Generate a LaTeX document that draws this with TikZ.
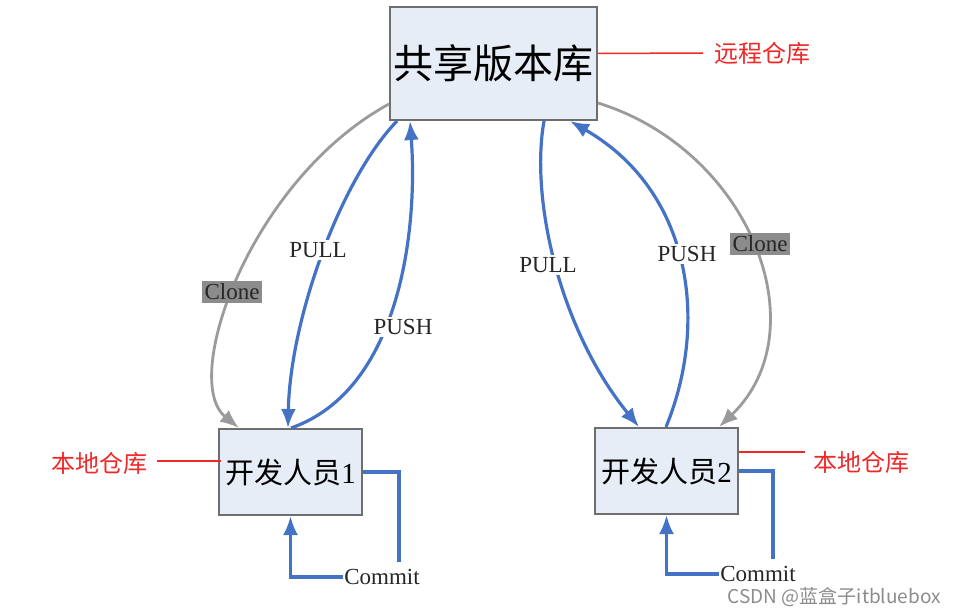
\documentclass[tikz,border=0pt]{standalone}
\usepackage{fontspec}
\setmainfont{Liberation Serif}
\newfontfamily\cjk{Noto Sans CJK SC}
\usetikzlibrary{arrows.meta,calc}
\definecolor{boxfill}{RGB}{230,237,247}
\definecolor{boxline}{RGB}{110,110,110}
\definecolor{blueln}{RGB}{68,114,196}
\definecolor{grayln}{RGB}{155,155,155}
\definecolor{clonebg}{RGB}{140,140,140}
\definecolor{redln}{RGB}{240,40,40}
\tikzset{
  repo/.style={draw=boxline, line width=2pt, fill=boxfill, inner sep=0pt},
  bluearrow/.style={draw=blueln, line width=3.2pt, -{Latex[length=19pt,width=15pt]}},
  blueline/.style={draw=blueln, line width=3.2pt},
  grayarrow/.style={draw=grayln, line width=2.8pt, -{Latex[length=19pt,width=15pt]}},
  lbl/.style={fill=white, inner sep=2pt, font=\fontsize{23}{26}\selectfont, text=black!85},
  clonelbl/.style={fill=clonebg, inner sep=2.5pt, font=\fontsize{23}{26}\selectfont, text=black!85},
  redlbl/.style={text=redln, inner sep=0pt, font=\cjk\fontsize{24}{28}\selectfont},
  redline/.style={draw=redln, line width=1.5pt},
}
\begin{document}
\begin{tikzpicture}[x=1pt,y=-1pt]
\useasboundingbox[fill=white] (0,0) rectangle (956,615);
% boxes
\node[repo, minimum width=207pt, minimum height=113pt] (top) at (493.5,63.5) {\cjk\fontsize{40}{44}\selectfont 共享版本库};
\node[repo, minimum width=143pt, minimum height=86pt] (dev1) at (290.5,472) {\fontsize{29}{32}\selectfont{\cjk 开发人员}1};
\node[repo, minimum width=143pt, minimum height=86pt] (dev2) at (666.5,471) {\fontsize{29}{32}\selectfont{\cjk 开发人员}2};

% clone curves
\draw[grayarrow] ($(top.south west)+(0,-17)$) .. controls (250,180) and (180,380) .. ($(dev1.north west)+(21,0)$);
\draw[grayarrow] ($(top.south east)+(0,-18)$) .. controls (750,150) and (820,330) .. ($(dev2.north east)+(-20,0)$);
% pull / push left
\draw[bluearrow] ($(top.south west)+(8,0)$) .. controls (340,180) and (290,320) .. ($(dev1.north west)+(70,0)$);
\draw[bluearrow] ($(dev1.north west)+(73,0)$) .. controls (400,390) and (418,230) .. ($(top.south west)+(21,0)$);
% pull / push right
\draw[bluearrow] ($(top.south west)+(155,0)$) .. controls (530,200) and (560,330) .. ($(dev2.north west)+(45,0)$);
\draw[bluearrow] ($(dev2.north west)+(72,0)$) .. controls (710,320) and (690,190) .. ($(top.south west)+(181,0)$);

% labels on curves
\node[clonelbl] (clone1) at (232,292) {Clone};
\node[clonelbl] (clone2) at (760,244) {Clone};
\node[lbl] (pull1) at (318,250) {PULL};
\node[lbl] (push1) at (403,327) {PUSH};
\node[lbl] (pull2) at (548,265) {PULL};
\node[lbl] (push2) at (687,254) {PUSH};

% commit loops
\node[lbl, inner sep=1pt] (c1) at (382,577) {Commit};
\node[lbl, inner sep=1pt] (c2) at (758,574) {Commit};
\coordinate (c1a) at (399,472);
\coordinate (c1b) at (399,562);
\draw[blueline] (dev1.east) -- (c1a) -- (c1b);
\draw[bluearrow] (c1.west) -| (dev1.south);
\coordinate (c2a) at (773,471);
\coordinate (c2b) at (773,559);
\draw[blueline] (dev2.east) -- (c2a) -- (c2b);
\draw[bluearrow] (c2.west) -| (dev2.south);

% red annotations
\node[redlbl, anchor=west] (r1) at (714,53) {远程仓库};
\draw[redline] ($(top.east)+(0,-10)$) -- ($(r1.west)+(-11,0)$);
\node[redlbl, anchor=east] (r2) at (148,463) {本地仓库};
\draw[redline] ($(r2.east)+(9,-2)$) -- ($(dev1.west)+(3,-11)$);
\node[redlbl, anchor=west] (r3) at (813,462) {本地仓库};
\draw[redline] ($(dev2.east)+(0,-19)$) -- ($(r3.west)+(-8,-10)$);

% watermark
\node[anchor=east, inner sep=0pt, text=black!45, font=\cjk\fontsize{19}{22}\selectfont] (wm) at (941,597) {CSDN @蓝盒子itbluebox};
\end{tikzpicture}
\end{document}
